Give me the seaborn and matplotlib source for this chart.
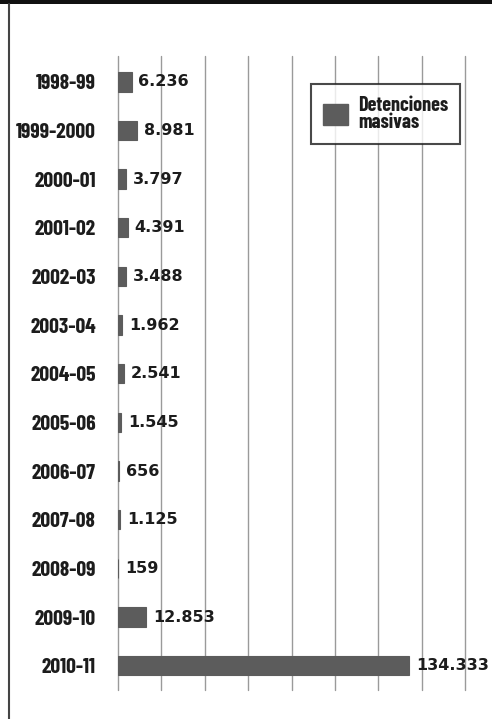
import matplotlib
matplotlib.use("Agg")
import matplotlib.pyplot as plt
import seaborn as sns
import pandas as pd
from matplotlib.lines import Line2D
from matplotlib.patches import Rectangle, Patch

seasons = ["1998-99", "1999-2000", "2000-01", "2001-02", "2002-03", "2003-04",
           "2004-05", "2005-06", "2006-07", "2007-08", "2008-09", "2009-10", "2010-11"]
detentions = [6236, 8981, 3797, 4391, 3488, 1962, 2541, 1545, 656, 1125, 159, 12853, 134333]
value_labels = ["6.236", "8.981", "3.797", "4.391", "3.488", "1.962", "2.541",
                "1.545", "656", "1.125", "159", "12.853", "134.333"]
series_name = "Detenciones\nmasivas"

df = pd.DataFrame({"season": seasons, "value": detentions})

sns.set_theme(style="whitegrid")
plt.rcParams["font.family"] = ["DejaVu Sans"]

LABEL_FONT = ["Barlow Condensed", "DejaVu Sans"]
VALUE_FONT = ["DejaVu Sans"]
INK = "#1c1c1c"

W, H = 492, 719
fig = plt.figure(figsize=(W / 100, H / 100), dpi=100)
ax = fig.add_axes([118 / W, 1 - 690 / H, (465 - 118) / W, (690 - 56) / H])

bar_color = "#5c5c5c"
sns.barplot(data=df, y="season", x="value", orient="h", color=bar_color,
            width=0.4, edgecolor=bar_color, linewidth=0.8, ax=ax, saturation=1)

ax.set_xlim(0, 160000)
ax.set_ylim(12.5, -0.53)
ax.set_xticks(range(0, 160001, 20000))
ax.set_xticklabels([])
ax.set_xlabel("")
ax.set_ylabel("")
ax.grid(axis="x", color="#9a9a9a", linewidth=1.0)
ax.grid(axis="y", visible=False)
for gl in ax.get_xgridlines():
    gl.set_clip_on(False)
for s in ax.spines.values():
    s.set_visible(False)
ax.tick_params(axis="both", length=0)
ax.tick_params(axis="y", pad=16)
for lab in ax.get_yticklabels():
    lab.set_fontfamily(LABEL_FONT)
    lab.set_fontweight("bold")
    lab.set_fontsize(15.5)
    lab.set_color(INK)

ax.bar_label(ax.containers[0], labels=value_labels, padding=5,
             fontsize=11.5, fontweight="bold", color=INK,
             fontfamily=VALUE_FONT, clip_on=False)

handle = Patch(facecolor=bar_color, edgecolor=bar_color)
leg = ax.legend([handle], [series_name], loc="upper right",
                bbox_to_anchor=(0.986, 0.956), borderaxespad=0,
                frameon=True, fancybox=False,
                handlelength=1.25, handleheight=1.25, handletextpad=0.5,
                borderpad=0.6, prop={"family": LABEL_FONT,
                                     "weight": "bold", "size": 14.5})
leg.get_frame().set_edgecolor(INK)
leg.get_frame().set_linewidth(1.5)
for t in leg.get_texts():
    t.set_color(INK)
    t.set_linespacing(0.85)

# frame decorations: top black band and left border line
fig.add_artist(Rectangle((0, 1 - 4 / H), 1, 4 / H, transform=fig.transFigure,
                         facecolor="#111111", edgecolor="none"))
fig.add_artist(Line2D([8.5 / W, 8.5 / W], [0, 1 - 4 / H], transform=fig.transFigure,
                      color="#444444", linewidth=1.5))

fig.savefig("out.png", dpi=100)
